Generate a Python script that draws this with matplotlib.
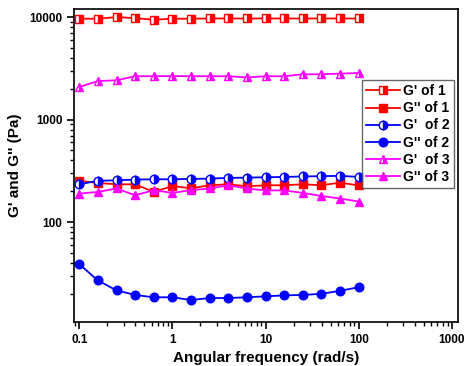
import numpy as np
import matplotlib
matplotlib.use('Agg')
import matplotlib.pyplot as plt
from matplotlib.ticker import LogLocator, FuncFormatter, NullFormatter

plt.rcParams['font.family'] = ['Liberation Sans', 'DejaVu Sans']
plt.rcParams['font.weight'] = 'bold'

# frekuensi sudut (rad/s)
freq = [0.1, 0.158, 0.251, 0.398, 0.631, 1.0, 1.58, 2.51, 3.98, 6.31,
        10.0, 15.8, 25.1, 39.8, 63.1, 100.0]

# modulus (Pa)
g1_storage = [9650, 9650, 10000, 9780, 9430, 9650, 9650, 9700, 9700, 9700,
              9700, 9700, 9700, 9700, 9700, 9700]
g1_loss = [253, 241, 234, 234, 197, 225, 214, 229, 234, 224,
           229, 229, 234, 229, 243, 228]
g2_storage = [234, 253, 256, 260, 262, 262, 264, 266, 270, 272,
              274, 276, 279, 281, 283, 276]
g2_loss = [39, 27, 21.6, 19.5, 18.5, 18.5, 17.4, 18.2, 18.2, 18.5,
           18.9, 19.3, 19.5, 20.0, 21.4, 23.2]
g3_storage = [2080, 2380, 2420, 2650, 2650, 2660, 2650, 2650, 2650, 2580,
              2650, 2650, 2770, 2770, 2810, 2850]
g3_loss = [190, 197, 213, 183, 205, 193, 205, 213, 229, 213,
           204, 204, 193, 180, 170, 159]

labels = ["G' of 1", "G'' of 1", "G'  of 2", "G'' of 2", "G'  of 3", "G'' of 3"]

fig = plt.figure(figsize=(4.75, 3.66), dpi=100)
ax = fig.add_axes([0.156, 0.120, 0.808, 0.855])

red = '#FF0000'
blue = '#0000FF'
pink = '#FF00FF'

ax.plot(freq, g1_storage, '-s', color=red, ms=5.5, lw=1.3, fillstyle='right',
        markerfacecoloralt='white', label=labels[0])
ax.plot(freq, g1_loss, '-s', color=red, ms=5.5, lw=1.3, label=labels[1])
ax.plot(freq, g2_storage, '-o', color=blue, ms=6.2, lw=1.3, fillstyle='right',
        markerfacecoloralt='white', label=labels[2])
ax.plot(freq, g2_loss, '-o', color=blue, ms=6.2, lw=1.3, label=labels[3])
ax.plot(freq, g3_storage, '-^', color=pink, ms=6.2, lw=1.3, fillstyle='right',
        markerfacecoloralt='white', label=labels[4])
ax.plot(freq, g3_loss, '-^', color=pink, ms=6.2, lw=1.3, label=labels[5])

ax.set_xscale('log')
ax.set_yscale('log')
ax.set_xlim(0.088, 1160)
ax.set_ylim(10.6, 11960)

fmt = FuncFormatter(lambda v, p: '%g' % v)
ax.xaxis.set_major_locator(LogLocator(base=10, numticks=10))
ax.xaxis.set_major_formatter(fmt)
ax.xaxis.set_minor_formatter(NullFormatter())
ax.yaxis.set_major_locator(LogLocator(base=10, numticks=10))
ax.yaxis.set_major_formatter(fmt)
ax.yaxis.set_minor_formatter(NullFormatter())

ax.tick_params(which='both', direction='out', top=False, right=False)
ax.tick_params(which='major', length=5, width=1.2, labelsize=8.5)
ax.tick_params(which='minor', length=3, width=1)
for s in ax.spines.values():
    s.set_linewidth(1.2)

ax.set_xlabel('Angular frequency (rad/s)', fontsize=11, fontweight='bold')
ax.set_ylabel("G' and G'' (Pa)", fontsize=11, fontweight='bold')
ax.yaxis.set_label_coords(-0.135, 0.5)

leg = ax.legend(loc='upper right', bbox_to_anchor=(0.99, 0.773), fontsize=10,
                frameon=True, fancybox=False, edgecolor='#404040',
                handlelength=2.4, borderpad=0.3, labelspacing=0.22,
                handletextpad=0.25, borderaxespad=0.0)
leg.get_frame().set_linewidth(1.0)

fig.savefig('out.png', dpi=100)
